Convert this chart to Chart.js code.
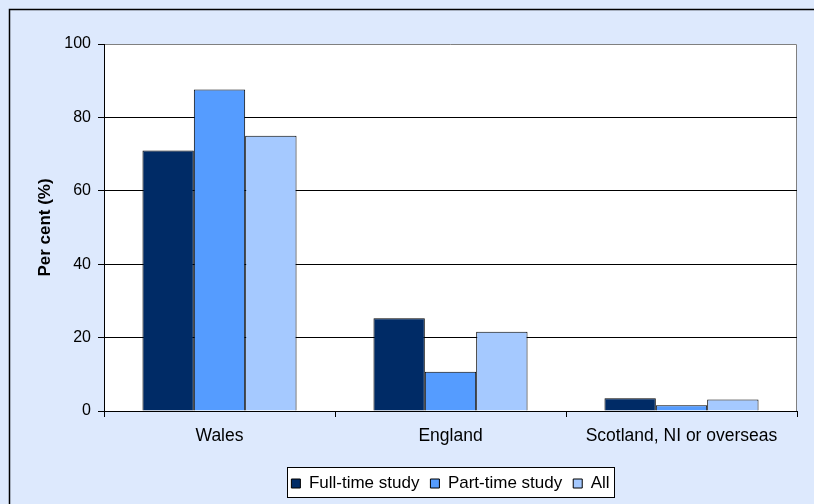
<!DOCTYPE html>
<html>
<head>
<meta charset="utf-8">
<script src="https://cdn.jsdelivr.net/npm/chart.js@4.4.0/dist/chart.umd.min.js"></script>
<style>
    html, body { margin: 0; padding: 0; background: #dde9fd; }
    #wrap { width: 814px; height: 504px; position: relative; }
</style>
</head>
<body>
<div id="wrap"><canvas id="myChart"></canvas></div>
<script>
// data
var categories = ["Wales", "England", "Scotland, NI or overseas"];
var fullTime = [71, 25.3, 3.5];
var partTime = [87.6, 10.7, 1.6];
var allStudy = [75, 21.6, 3.1];
var yTicks = [0, 20, 40, 60, 80, 100];

var FONT = "'Liberation Sans', Arial, sans-serif";

// background, plot area and the legend box
var framePlugin = {
    id: "frame",
    afterUpdate: function (chart) {
        // centre the legend under the plot area
        var lg = chart.legend, a = chart.chartArea;
        lg.fit();
        lg.left = a.left;
        lg.right = a.right;
        lg.width = a.right - a.left;
        lg.adjustHitBoxes();
    },
    beforeDraw: function (chart) {
        var ctx = chart.ctx, a = chart.chartArea;
        ctx.save();
        ctx.fillStyle = "#dde9fd";
        ctx.fillRect(0, 0, chart.width, chart.height);
        // outer border (only top and left are in the picture)
        ctx.strokeStyle = "#000";
        ctx.lineWidth = 1.5;
        ctx.beginPath();
        ctx.moveTo(9.5, chart.height + 2);
        ctx.lineTo(9.5, 9.5);
        ctx.lineTo(chart.width + 2, 9.5);
        ctx.stroke();
        // plot area
        ctx.fillStyle = "#fff";
        ctx.fillRect(a.left, a.top, a.right - a.left, a.bottom - a.top);
        ctx.strokeStyle = "#808080";
        ctx.lineWidth = 1;
        ctx.beginPath();
        ctx.moveTo(a.left, a.top + 0.5);
        ctx.lineTo(a.right - 0.5, a.top + 0.5);
        ctx.lineTo(a.right - 0.5, a.bottom);
        ctx.stroke();
        // legend box
        var boxes = chart.legend.legendHitBoxes;
        if (boxes && boxes.length) {
            var l = 1e9, r = -1e9, t = 1e9, b = -1e9;
            boxes.forEach(function (h) {
                l = Math.min(l, h.left);
                r = Math.max(r, h.left + h.width);
                t = Math.min(t, h.top);
                b = Math.max(b, h.top + h.height);
            });
            var x0 = Math.round(l - 4) + 0.5, y0 = Math.round(t - 8) + 0.5;
            var x1 = Math.round(r + 4) + 0.5, y1 = Math.round(b + 5) + 0.5;
            ctx.fillStyle = "#fff";
            ctx.strokeStyle = "#000";
            ctx.fillRect(x0, y0, x1 - x0, y1 - y0);
            ctx.strokeRect(x0, y0, x1 - x0, y1 - y0);
        }
        ctx.restore();
    }
};

var ctx = document.getElementById("myChart").getContext("2d");
var myChart = new Chart(ctx, {
    type: "bar",
    data: {
        labels: categories,
        datasets: [
            {
                label: "Full-time study",
                data: fullTime,
                backgroundColor: "#002b66",
                borderColor: "#000",
                borderWidth: 1,
            },
            {
                label: "Part-time study",
                data: partTime,
                backgroundColor: "#559cff",
                borderColor: "#000",
                borderWidth: 1,
            },
            {
                label: "All",
                data: allStudy,
                backgroundColor: "#a5c9ff",
                borderColor: "#000",
                borderWidth: 1,
            },
        ],
    },
    options: {
        responsive: true,
        maintainAspectRatio: false,
        animation: false,
        layout: { padding: { top: 44, left: 0, right: 17, bottom: 2 } },
        categoryPercentage: 0.667,
        barPercentage: 1.0,
        plugins: {
            tooltip: { enabled: false },
            legend: {
                position: "bottom",
                labels: {
                    color: "#000",
                    font: { family: FONT, size: 17 },
                    boxWidth: 9,
                    boxHeight: 9,
                    padding: 11,
                },
            },
        },
        scales: {
            x: {
                offset: true,
                grid: {
                    offset: true,
                    drawOnChartArea: false,
                    drawTicks: true,
                    tickLength: 6,
                    tickColor: "#000",
                },
                border: { color: "#000", width: 1 },
                ticks: {
                    color: "#000",
                    font: { family: FONT, size: 17.5 },
                    padding: 9,
                    maxRotation: 0,
                },
                afterFit: function (axis) { axis.height = 53; },
            },
            y: {
                min: 0,
                max: 100,
                afterBuildTicks: function (axis) {
                    axis.ticks = yTicks.map(function (v) { return { value: v }; });
                },
                grid: {
                    color: function (c) {
                        return c.tick && (c.tick.value === 100 || c.tick.value === 0) ? "rgba(0,0,0,0)" : "#000";
                    },
                    tickColor: "#000",
                    tickLength: 6,
                },
                border: { color: "#000", width: 1 },
                ticks: {
                    color: "#000",
                    font: { family: FONT, size: 16 },
                    padding: 7,
                },
                title: {
                    display: true,
                    text: "Per cent (%)",
                    color: "#000",
                    font: { family: FONT, size: 17, weight: "bold" },
                    padding: { top: 35, bottom: 0 },
                },
                afterFit: function (axis) { axis.width = 104; },
            },
        },
    },
    plugins: [framePlugin],
});
</script>
</body>
</html>
